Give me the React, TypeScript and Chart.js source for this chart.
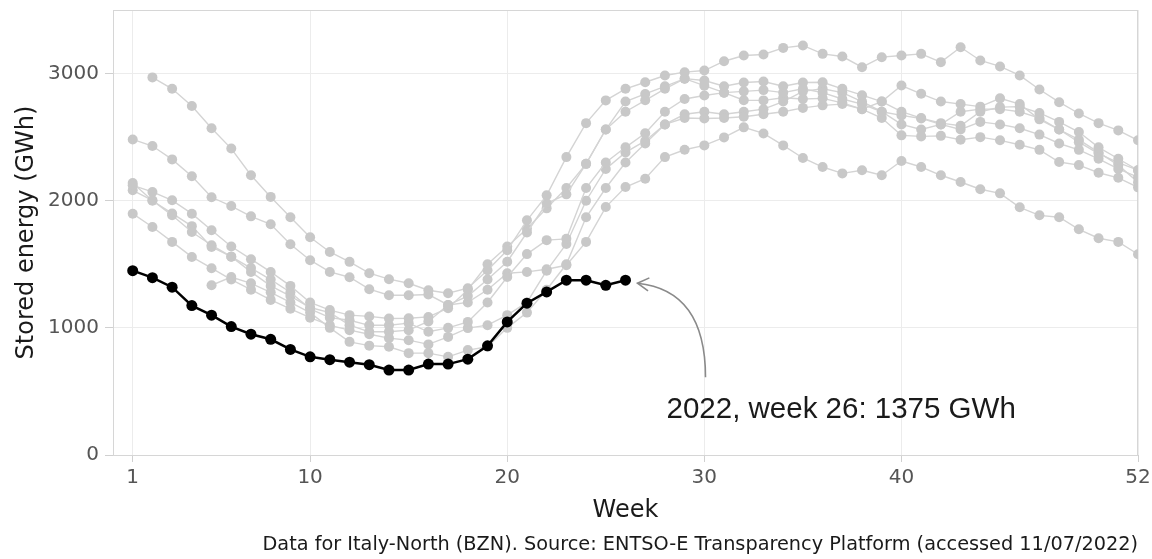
import React, { useEffect, useRef } from "react";
import { Chart, registerables } from "chart.js";

Chart.register(...registerables);

// ---- data ----
const weeks: number[] = Array.from({ length: 52 }, (_, i) => i + 1);
const xTickValues = [1, 10, 20, 30, 40, 52];
const yTickValues = [0, 1000, 2000, 3000];

const year2015: (number | null)[] = [
  null, 2970, 2880, 2745, 2570, 2410, 2200, 2030, 1870, 1712,
  1597, 1519, 1430, 1383, 1351, 1296, 1272, 1312, 1453, 1610,
  1846, 2042, 2343, 2610, 2789, 2880, 2932, 2985, 3011, 3024,
  3097, 3142, 3150, 3202, 3221, 3155, 3134, 3050, 3129, 3142,
  3155, 3090, 3207, 3103, 3056, 2985, 2875, 2775, 2686, 2610,
  2553, 2475,
];
const year2016: (number | null)[] = [
  2482, 2430, 2325, 2192, 2027, 1958, 1877, 1815, 1657, 1532,
  1440, 1398, 1304, 1257, 1257, 1262, 1180, 1250, 1380, 1520,
  1750, 1980, 2050, 2290, 2560, 2700, 2790, 2880, 2960, 2945,
  2900, 2930, 2938, 2900, 2930, 2932, 2880, 2830, 2780, 2700,
  2650, 2610, 2590, 2700, 2736, 2740, 2690, 2620, 2540, 2420,
  2330, 2240,
];
const year2017: (number | null)[] = [
  2121, 2069, 2003, 1898, 1767, 1640, 1540, 1440, 1330, 1200,
  1140, 1100, 1090, 1074, 1076, 1086, 1155, 1300, 1500, 1640,
  1780, 1940, 2100, 2290, 2560, 2780, 2840, 2900, 2960, 2905,
  2850, 2860, 2870, 2850, 2880, 2850, 2800, 2760, 2700, 2671,
  2647, 2600, 2560, 2620, 2600, 2570, 2520, 2450, 2400, 2330,
  2250, 2185,
];
const year2018: (number | null)[] = [
  2082, 2003, 1885, 1754, 1650, 1560, 1470, 1380, 1280, 1150,
  1080, 1060, 1020, 1021, 1037, 969, 1000, 1047, 1200, 1400,
  1580, 1690, 1700, 2100, 2300, 2420, 2530, 2700, 2800, 2828,
  2850, 2790, 2789, 2810, 2800, 2805, 2770, 2720, 2780, 2906,
  2841, 2780, 2760, 2740, 2805, 2760, 2640, 2560, 2480, 2380,
  2280, 2145,
];
const year2019: (number | null)[] = [
  1898, 1793, 1676, 1558, 1469, 1380, 1300, 1220, 1150, 1080,
  1020, 982, 950, 919, 903, 870, 929, 998, 1021, 1100,
  1200, 1450, 1660, 2000, 2250, 2380, 2470, 2600, 2650, 2647,
  2650, 2660, 2680, 2700, 2730, 2750, 2760, 2720, 2650, 2514,
  2506, 2510, 2480, 2500, 2475, 2440, 2400, 2304, 2280, 2220,
  2180, 2105,
];
const year2020: (number | null)[] = [
  null, null, null, null, 1335, 1400, 1350, 1280, 1200, 1120,
  1000, 890, 860, 851, 801, 801, 772, 825, 851, 1000,
  1120, 1300, 1500, 1870, 2100, 2300, 2450, 2600, 2680, 2700,
  2680, 2700, 2720, 2780, 2860, 2880, 2850, 2780, 2700, 2600,
  2560, 2600, 2700, 2720, 2720, 2700, 2650, 2560, 2460, 2370,
  2300, 2240,
];
const year2021: (number | null)[] = [
  2140, 2000, 1900, 1800, 1636, 1560, 1440, 1330, 1250, 1160,
  1120, 1021, 969, 969, 982, 1050, 1180, 1200, 1300, 1430,
  1440, 1461, 1492, 1676, 1950, 2108, 2173, 2343, 2401, 2435,
  2498, 2577, 2529, 2435, 2336, 2265, 2215, 2239, 2200, 2312,
  2265, 2200, 2147, 2090, 2058, 1948, 1885, 1870, 1775, 1705,
  1676, 1579,
];
const year2022: (number | null)[] = [
  1450, 1395, 1320, 1175, 1100, 1010, 950, 910, 830, 772,
  750, 730, 710, 668, 668, 715, 715, 754, 859, 1047,
  1194, 1283, 1375, 1375, 1335, 1375,
];

const pastYears = [year2015, year2016, year2017, year2018, year2019, year2020, year2021];

const annotationWeek = 26;
const annotationValue = 1375;
const annotationText = "2022, week 26: 1375 GWh";
const footerText =
  "Data for Italy-North (BZN). Source: ENTSO-E Transparency Platform (accessed 11/07/2022)";

const toPoints = (vals: (number | null)[]) =>
  weeks.slice(0, vals.length).map((w, i) => ({ x: w, y: vals[i] }));

const AXIS_FONT = "'DejaVu Sans', sans-serif";

const decorPlugin = {
  id: "decor",
  beforeDatasetsDraw(chart: any) {
    const { ctx, chartArea } = chart;
    ctx.save();
    ctx.strokeStyle = "#d6d6d6";
    ctx.lineWidth = 1;
    ctx.strokeRect(chartArea.left + 0.5, chartArea.top + 0.5, chartArea.right - chartArea.left - 1, chartArea.bottom - chartArea.top);
    ctx.restore();
  },
  afterDatasetsDraw(chart: any) {
    const { ctx } = chart;
    const xs = chart.scales.x;
    const ys = chart.scales.y;
    const px = xs.getPixelForValue(annotationWeek);
    const py = ys.getPixelForValue(annotationValue);
    const tipX = px + 12;
    const tipY = py + 3;
    const startX = px + 80;
    const startY = py + 97;
    const cX = px + 80;
    const cY = py + 10;
    ctx.save();
    ctx.strokeStyle = "#8a8a8a";
    ctx.lineWidth = 1.6;
    ctx.beginPath();
    ctx.moveTo(startX, startY);
    ctx.quadraticCurveTo(cX, cY, tipX, tipY);
    ctx.stroke();
    const ang = Math.atan2(tipY - cY, tipX - cX);
    const len = 13;
    ctx.beginPath();
    ctx.moveTo(tipX - len * Math.cos(ang - Math.PI / 6), tipY - len * Math.sin(ang - Math.PI / 6));
    ctx.lineTo(tipX, tipY);
    ctx.lineTo(tipX - len * Math.cos(ang + Math.PI / 6), tipY - len * Math.sin(ang + Math.PI / 6));
    ctx.stroke();
    ctx.fillStyle = "#1a1a1a";
    ctx.font = "29.5px 'Liberation Sans', Arial, sans-serif";
    ctx.textBaseline = "alphabetic";
    ctx.textAlign = "left";
    ctx.fillText(annotationText, px + 41, py + 138);
    ctx.restore();
  },
  afterDraw(chart: any) {
    const { ctx, chartArea } = chart;
    ctx.save();
    ctx.fillStyle = "#1a1a1a";
    ctx.font = "19.3px " + AXIS_FONT;
    ctx.textAlign = "right";
    ctx.textBaseline = "middle";
    ctx.fillText(footerText, chartArea.right, chart.height - 14);
    ctx.restore();
  },
};

export default function App() {
  const ref = useRef<HTMLCanvasElement | null>(null);

  useEffect(() => {
    document.body.style.margin = "0";
    const canvas = ref.current!;
    const grayDatasets = pastYears.map((vals, i) => ({
      label: String(2015 + i),
      data: toPoints(vals),
      borderColor: "#d4d4d4",
      borderWidth: 1.4,
      pointRadius: 5,
      pointBackgroundColor: "#c8c8c8",
      pointBorderWidth: 0,
      pointHoverRadius: 5,
      order: 2,
      spanGaps: false,
    }));
    const chart = new Chart(canvas, {
      type: "line",
      data: {
        datasets: [
          {
            label: "2022",
            data: toPoints(year2022),
            borderColor: "#000000",
            borderWidth: 2.5,
            pointRadius: 5.5,
            pointBackgroundColor: "#000000",
            pointBorderWidth: 0,
            order: 1,
          },
          ...grayDatasets,
        ],
      },
      options: {
        animation: false,
        responsive: false,
        devicePixelRatio: 1,
        layout: { padding: { top: 10, right: 14, bottom: 34, left: 0 } },
        plugins: {
          legend: { display: false },
          tooltip: { enabled: false },
          title: { display: false },
        },
        scales: {
          x: {
            type: "linear",
            min: 0,
            max: 52,
            afterBuildTicks: (s: any) => {
              s.ticks = xTickValues.map((v) => ({ value: v }));
            },
            afterFit: (s: any) => {
              s.height = 70;
              s.paddingLeft = 0;
              s.paddingRight = 0;
            },
            ticks: {
              autoSkip: false,
              maxRotation: 0,
              padding: 4,
              color: "#555555",
              font: { family: AXIS_FONT, size: 20 },
              callback: (v: any) => String(v),
            },
            grid: { color: "#ececec", tickLength: 7, tickColor: "#d0d0d0" },
            border: { color: "#d0d0d0" },
            title: {
              display: true,
              text: "Week",
              color: "#1a1a1a",
              font: { family: AXIS_FONT, size: 24 },
              padding: { top: 0, bottom: 0 },
            },
          },
          y: {
            min: 0,
            max: 3500,
            afterBuildTicks: (s: any) => {
              s.ticks = yTickValues.map((v) => ({ value: v }));
            },
            afterFit: (s: any) => {
              s.width = 113;
              s.paddingTop = 0;
              s.paddingBottom = 0;
            },
            ticks: {
              padding: 6,
              color: "#555555",
              font: { family: AXIS_FONT, size: 20 },
              callback: (v: any) => String(v),
            },
            grid: { color: "#ececec", tickLength: 8, tickColor: "#d0d0d0" },
            border: { color: "#d0d0d0" },
            title: {
              display: true,
              text: "Stored energy (GWh)",
              color: "#1a1a1a",
              font: { family: AXIS_FONT, size: 24 },
              padding: { top: 12, bottom: 0 },
            },
          },
        },
      },
      plugins: [decorPlugin],
    });
    return () => chart.destroy();
  }, []);

  return (
    <div style={{ position: "fixed", left: 0, top: 0, width: 1152, height: 559, background: "#fff" }}>
      <canvas ref={ref} width={1152} height={559} style={{ width: 1152, height: 559, display: "block" }} />
    </div>
  );
}
